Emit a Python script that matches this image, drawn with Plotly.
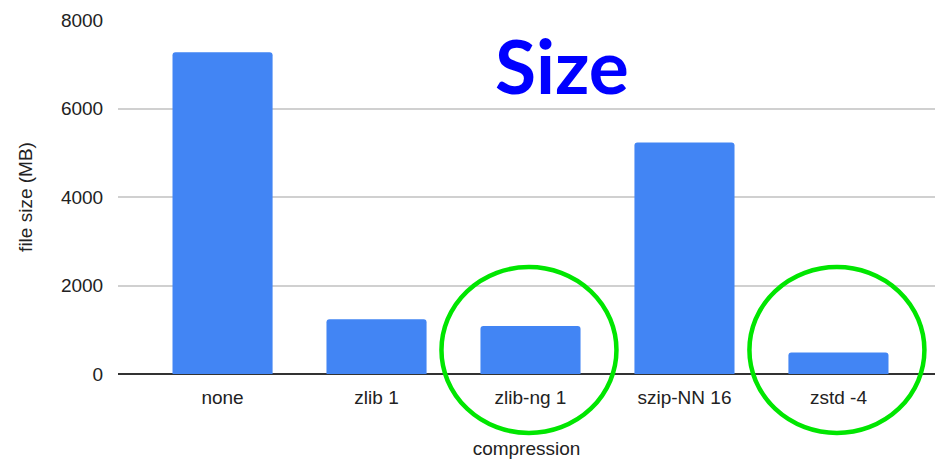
import plotly.graph_objects as go

# File size per compression setting
compression = ["none", "zlib 1", "zlib-ng 1", "szip-NN 16", "zstd -4"]
size_mb = [7270, 1240, 1085, 5230, 485]
highlighted = ["zlib-ng 1", "zstd -4"]
y_ticks = [0, 2000, 4000, 6000, 8000]

BAR_BLUE = "#4285F4"
RING_GREEN = "#00E600"
FONT = "Liberation Sans, Arial, sans-serif"

W, H = 935, 459
M_L, M_R, M_T, M_B = 118, 0, 20, 85
plot_w = W - M_L - M_R
plot_h = H - M_T - M_B
y_max = 8000
x_range = [-0.679, 4.627]

fig = go.Figure(
    go.Bar(
        x=compression,
        y=size_mb,
        marker=dict(color=BAR_BLUE, line=dict(width=0), cornerradius=3),
        hoverinfo="x+y",
    )
)


def cat_to_paper(i):
    return (i - x_range[0]) / (x_range[1] - x_range[0])


# Green rings around the highlighted settings (paper-referenced so they
# can spill below the axis without being clipped)
ring_rx, ring_ry, ring_cy = 87.5, 83, 24  # pixels; cy above the baseline
for name in highlighted:
    cx = cat_to_paper(compression.index(name) - 0.01)
    fig.add_shape(
        type="circle",
        xref="paper", yref="paper",
        x0=cx - ring_rx / plot_w, x1=cx + ring_rx / plot_w,
        y0=(ring_cy - ring_ry) / plot_h, y1=(ring_cy + ring_ry) / plot_h,
        line=dict(color=RING_GREEN, width=4.5),
        layer="above",
    )

fig.add_annotation(
    text="<b>Size</b>",
    xref="paper", yref="paper",
    x=(562 - M_L) / plot_w, y=(H - M_B - 65) / plot_h,
    xanchor="center", yanchor="middle",
    showarrow=False,
    font=dict(family="Lato, sans-serif", size=75, color="#0000FF"),
)

fig.update_layout(
    width=W, height=H,
    margin=dict(l=M_L, r=M_R, t=M_T, b=M_B),
    paper_bgcolor="white",
    plot_bgcolor="white",
    bargap=0.35,
    showlegend=False,
    font=dict(family=FONT, size=19, color="#222222"),
)
fig.update_xaxes(
    type="category",
    range=x_range,
    showgrid=False,
    showline=False,
    ticks="outside", ticklen=6, tickcolor="rgba(0,0,0,0)",
    title=dict(text="compression", font=dict(size=19, color="#222222"), standoff=34),
    tickfont=dict(size=19, color="#222222"),
)
fig.update_yaxes(
    range=[0, y_max],
    tickvals=y_ticks,
    showgrid=True, gridcolor="#d0d0d0", gridwidth=1.5,
    zeroline=True, zerolinecolor="#333333", zerolinewidth=1.5,
    showline=False,
    ticks="outside", ticklen=10, tickcolor="rgba(0,0,0,0)",
    tickfont=dict(size=19, color="#222222"),
    title=dict(text="file size (MB)", font=dict(size=19, color="#222222"), standoff=23),
)

fig.write_html("out.html")
